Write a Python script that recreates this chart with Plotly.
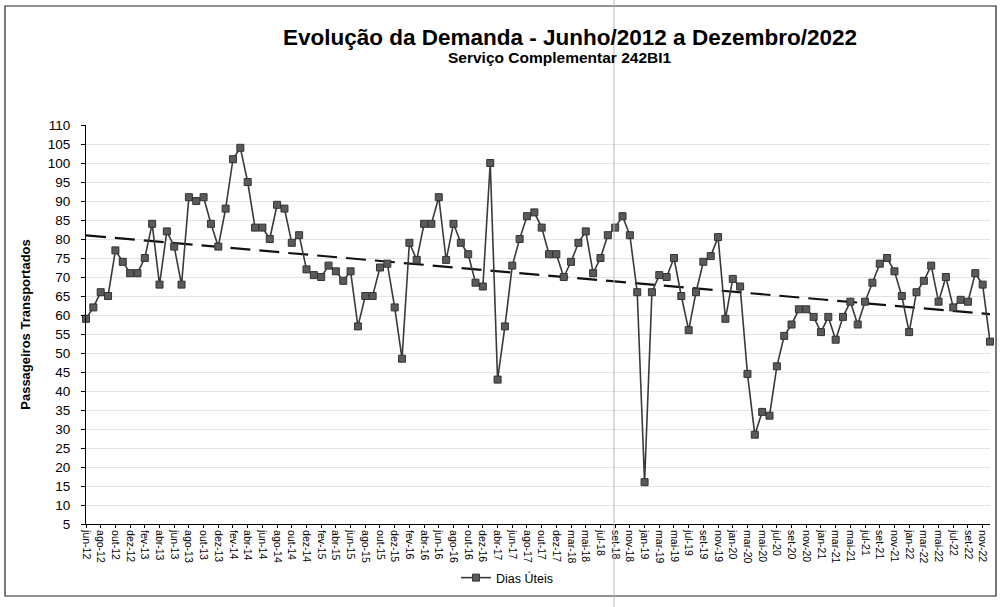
import numpy as np
import plotly.graph_objects as go

# Month categories (one unlabeled month each after dez-16 and dez-17 in the source axis)
months = [
    "jun-12", "jul-12", "ago-12", "set-12", "out-12", "nov-12", "dez-12",
    "jan-13", "fev-13", "mar-13", "abr-13", "mai-13", "jun-13", "jul-13", "ago-13", "set-13", "out-13", "nov-13", "dez-13",
    "jan-14", "fev-14", "mar-14", "abr-14", "mai-14", "jun-14", "jul-14", "ago-14", "set-14", "out-14", "nov-14", "dez-14",
    "jan-15", "fev-15", "mar-15", "abr-15", "mai-15", "jun-15", "jul-15", "ago-15", "set-15", "out-15", "nov-15", "dez-15",
    "jan-16", "fev-16", "mar-16", "abr-16", "mai-16", "jun-16", "jul-16", "ago-16", "set-16", "out-16", "nov-16", "dez-16",
    "jan-17", "abr-17", "mai-17", "jun-17", "jul-17", "ago-17", "set-17", "out-17", "nov-17", "dez-17",
    "jan-18", "mar-18", "abr-18", "mai-18", "jun-18", "jul-18", "ago-18", "set-18", "out-18", "nov-18", "dez-18",
    "jan-19", "fev-19", "mar-19", "abr-19", "mai-19", "jun-19", "jul-19", "ago-19", "set-19", "out-19", "nov-19", "dez-19",
    "jan-20", "fev-20", "mar-20", "abr-20", "mai-20", "jun-20", "jul-20", "ago-20", "set-20", "out-20", "nov-20", "dez-20",
    "jan-21", "fev-21", "mar-21", "abr-21", "mai-21", "jun-21", "jul-21", "ago-21", "set-21", "out-21", "nov-21", "dez-21",
    "jan-22", "fev-22", "mar-22", "abr-22", "mai-22", "jun-22", "jul-22", "ago-22", "set-22", "out-22", "nov-22", "dez-22",
]

dias_uteis = [
    59, 62, 66, 65, 77, 74, 71,
    71, 75, 84, 68, 82, 78, 68, 91, 90, 91, 84, 78,
    88, 101, 104, 95, 83, 83, 80, 89, 88, 79, 81, 72,
    70.5, 70, 73, 71.5, 69, 71.5, 57, 65, 65, 72.5, 73.5, 62,
    48.5, 79, 74.5, 84, 84, 91, 74.5, 84, 79, 76, 68.5, 67.5,
    100, 43, 57, 73, 80, 86, 87, 83, 76, 76,
    70, 74, 79, 82, 71, 75, 81, 83, 86, 81, 66,
    16, 66, 70.5, 70, 75, 65, 56, 66, 74, 75.5, 80.5, 59,
    69.5, 67.5, 44.5, 28.5, 34.5, 33.5, 46.5, 54.5, 57.5, 61.5, 61.5, 59.5,
    55.5, 59.5, 53.5, 59.5, 63.5, 57.5, 63.5, 68.5, 73.5, 75, 71.5, 65,
    55.5, 66, 69, 73, 63.5, 70, 62, 64, 63.5, 71, 68, 53,
]

tick_labels = [
    "jun-12", "ago-12", "out-12", "dez-12", "fev-13", "abr-13", "jun-13", "ago-13", "out-13", "dez-13",
    "fev-14", "abr-14", "jun-14", "ago-14", "out-14", "dez-14", "fev-15", "abr-15", "jun-15", "ago-15",
    "out-15", "dez-15", "fev-16", "abr-16", "jun-16", "ago-16", "out-16", "dez-16", "abr-17", "jun-17",
    "ago-17", "out-17", "dez-17", "mar-18", "mai-18", "jul-18", "set-18", "nov-18", "jan-19", "mar-19",
    "mai-19", "jul-19", "set-19", "nov-19", "jan-20", "mar-20", "mai-20", "jul-20", "set-20", "nov-20",
    "jan-21", "mar-21", "mai-21", "jul-21", "set-21", "nov-21", "jan-22", "mar-22", "mai-22", "jul-22",
    "set-22", "nov-22",
]

# Linear trend (as an Excel linear trendline over the category index)
idx = np.arange(1, len(dias_uteis) + 1)
coef = np.polyfit(idx, dias_uteis, 1)
trend = np.polyval(coef, idx)

FONT = "Arial, Liberation Sans, sans-serif"

fig = go.Figure()
fig.add_trace(go.Scatter(
    x=months, y=trend, mode="lines", showlegend=False, hoverinfo="skip",
    line=dict(color="#111111", width=2.2, dash="20px,9px"), cliponaxis=False,
))
fig.add_trace(go.Scatter(
    x=months, y=dias_uteis, mode="lines+markers", name="Dias Úteis",
    line=dict(color="#3a3a3a", width=1.6),
    marker=dict(symbol="square", size=7, color="#5a5a5a", line=dict(color="#333333", width=1)),
    cliponaxis=False,
))

L, R, T, B = 86, 990, 125, 524
W, H = 1000, 607
pw, ph = R - L, B - T

def px_x(x):
    return (x - L) / pw

def px_y(y):
    return (B - y) / ph

fig.update_layout(
    width=W, height=H,
    margin=dict(l=L, r=W - R, t=T, b=H - B),
    paper_bgcolor="white", plot_bgcolor="white",
    font=dict(family=FONT, color="black"),
    showlegend=True,
    legend=dict(orientation="h", x=px_x(507), xanchor="center", y=px_y(578), yanchor="middle",
                font=dict(size=12.5, family=FONT), bgcolor="rgba(0,0,0,0)"),
    xaxis=dict(
        type="category", categoryorder="array", categoryarray=months,
        range=[0, len(months) - 1],
        tickmode="array", tickvals=tick_labels, ticktext=tick_labels,
        tickangle=90, tickfont=dict(size=10.5, family=FONT),
        showline=True, linecolor="black", linewidth=1, mirror=False,
        ticks="outside", ticklen=3, tickcolor="black",
        showgrid=False, zeroline=False,
    ),
    yaxis=dict(
        range=[5, 110], tickmode="linear", tick0=5, dtick=5,
        tickfont=dict(size=13.5, family=FONT),
        showline=True, linecolor="black", linewidth=1,
        ticks="outside", ticklen=4, tickcolor="black", ticklabelstandoff=8,
        showgrid=True, gridcolor="#e3e3e3", gridwidth=1, zeroline=False,
        title=dict(text="<b>Passageiros Transportados</b>", font=dict(size=13, family=FONT), standoff=14),
    ),
    annotations=[
        dict(text="<b>Evolução da Demanda - Junho/2012 a Dezembro/2022</b>", xref="paper", yref="paper",
             x=px_x(570), y=px_y(37), xanchor="center", yanchor="middle", showarrow=False,
             font=dict(size=22.5, family=FONT, color="black")),
        dict(text="<b>Serviço Complementar 242BI1</b>", xref="paper", yref="paper",
             x=px_x(560), y=px_y(58), xanchor="center", yanchor="middle", showarrow=False,
             font=dict(size=15.5, family=FONT, color="black")),
    ],
    shapes=[
        dict(type="rect", xref="paper", yref="paper", x0=px_x(5), x1=px_x(996), y0=px_y(596), y1=px_y(6),
             line=dict(color="#222222", width=1.2), fillcolor="rgba(0,0,0,0)", layer="below"),
        dict(type="line", xref="paper", yref="paper", x0=px_x(614), x1=px_x(614), y0=px_y(607), y1=px_y(0),
             line=dict(color="#b8b8b8", width=1), layer="above"),
    ],
)

fig.write_html("out.html", config={"displayModeBar": False},
               post_script="document.body.style.margin='0';document.body.style.overflow='hidden';")
